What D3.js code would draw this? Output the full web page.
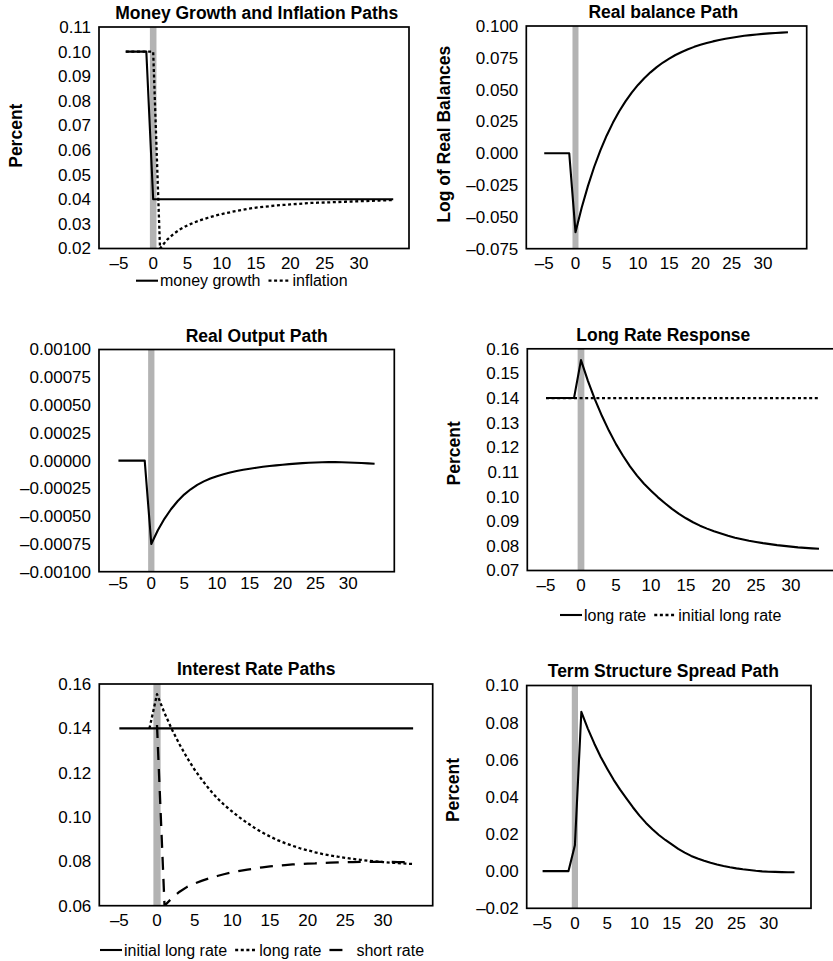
<!DOCTYPE html>
<html><head><meta charset="utf-8">
<script src="https://cdn.jsdelivr.net/npm/d3@7"></script>
<style>
body{margin:0;background:#fff}
svg{display:block}
text{font-family:"Liberation Sans",Arial,Helvetica,sans-serif;fill:#000}
</style></head><body>
<svg id="chart" width="833" height="961"></svg>
<script>
// ---------------- DATA ----------------
const periods = [-5,-4,-3,-2,-1,0,1,2,3,4,5,6,7,8,9,10,11,12,13,14,15,16,17,18,19,20,21,22,23,24,25,26,27,28,29,30,31,32,33,34];
const periodsMoney = [-4,-3,-2,-1,0,1,2,3,4,5,6,7,8,9,10,11,12,13,14,15,16,17,18,19,20,21,22,23,24,25,26,27,28,29,30,31,32,33,34,35];
const xTickValues = [-5,0,5,10,15,20,25,30];

const moneyGrowth = [0.10,0.10,0.10,0.10,0.04,0.04,0.04,0.04,0.04,0.04,0.04,0.04,0.04,0.04,0.04,0.04,0.04,0.04,0.04,0.04,0.04,0.04,0.04,0.04,0.04,0.04,0.04,0.04,0.04,0.04,0.04,0.04,0.04,0.04,0.04,0.04,0.04,0.04,0.04,0.04];
const inflation = [0.10,0.10,0.10,0.10,0.10,0.0200,0.0235,0.0260,0.0279,0.0294,0.0306,0.0316,0.0325,0.0333,0.0340,0.0346,0.0352,0.0357,0.0362,0.0366,0.0369,0.0372,0.0375,0.0377,0.0379,0.0381,0.0383,0.0385,0.0386,0.0387,0.0388,0.0389,0.0390,0.0391,0.0392,0.0393,0.0394,0.0395,0.0396,0.0397];

const realBalance = [0,0,0,0,0,-0.062,-0.0426,-0.0256,-0.0106,0.0025,0.0140,0.0241,0.0330,0.0408,0.0477,0.0537,0.0590,0.0636,0.0677,0.0713,0.0744,0.0772,0.0796,0.0817,0.0836,0.0852,0.0866,0.0879,0.0890,0.0900,0.0908,0.0916,0.0923,0.0928,0.0933,0.0938,0.0942,0.0945,0.0948,0.0951];

const realOutput = [0,0,0,0,0,-0.00075,-0.000627,-0.000524,-0.000438,-0.000366,-0.000306,-0.000258,-0.000219,-0.000187,-0.000161,-0.000140,-0.000122,-0.000107,-0.000094,-0.000083,-0.000073,-0.000064,-0.000056,-0.000049,-0.000043,-0.000037,-0.000032,-0.000027,-0.000023,-0.000020,-0.000017,-0.000015,-0.000014,-0.000014,-0.000015,-0.000017,-0.000019,-0.000022,-0.000025,-0.000029];

const longRate = [0.14,0.14,0.14,0.14,0.14,0.1554,0.1469,0.1394,0.1327,0.1267,0.1213,0.1166,0.1123,0.1085,0.1052,0.1024,0.0997,0.0973,0.0950,0.0930,0.0912,0.0896,0.0882,0.0870,0.0859,0.0850,0.0841,0.0833,0.0827,0.0821,0.0816,0.0811,0.0807,0.0803,0.0800,0.0797,0.0794,0.0792,0.0790,0.0788];
const initialLongRate = [0.14,0.14,0.14,0.14,0.14,0.14,0.14,0.14,0.14,0.14,0.14,0.14,0.14,0.14,0.14,0.14,0.14,0.14,0.14,0.14,0.14,0.14,0.14,0.14,0.14,0.14,0.14,0.14,0.14,0.14,0.14,0.14,0.14,0.14,0.14,0.14,0.14,0.14,0.14,0.14];
const shortRate = [0.14,0.14,0.14,0.14,0.14,0.1415,0.0600,0.0635,0.0663,0.0685,0.0700,0.0713,0.0724,0.0734,0.0743,0.0751,0.0757,0.0763,0.0768,0.0773,0.0777,0.0780,0.0783,0.0786,0.0788,0.0790,0.0791,0.0793,0.0794,0.0795,0.0796,0.0797,0.0798,0.0798,0.0798,0.0798,0.0798,0.0797,0.0797,0.0796];
const spread = [0,0,0,0,0,0.0139,0.0858,0.0768,0.0688,0.0615,0.0552,0.0492,0.0439,0.0391,0.0343,0.0299,0.0260,0.0226,0.0195,0.0168,0.0144,0.0120,0.0100,0.0082,0.0068,0.0056,0.0045,0.0036,0.0028,0.0021,0.0015,0.0010,0.0006,0.0002,-0.0001,-0.0003,-0.0004,-0.0005,-0.0006,-0.0006];

const yTicksInflation = [0.02,0.03,0.04,0.05,0.06,0.07,0.08,0.09,0.10,0.11];
const yTicksBalance = [-0.075,-0.05,-0.025,0,0.025,0.05,0.075,0.1];
const yTicksOutput = [-0.001,-0.00075,-0.0005,-0.00025,0,0.00025,0.0005,0.00075,0.001];
const yTicksLong = [0.07,0.08,0.09,0.10,0.11,0.12,0.13,0.14,0.15,0.16];
const yTicksRates = [0.06,0.08,0.10,0.12,0.14,0.16];
const yTicksSpread = [-0.02,0,0.02,0.04,0.06,0.08,0.10];

// ---------------- STYLES ----------------
const STY = {
  solid:  {w:2.1, dash:null},
  dotted: {w:2.3, dash:"3,2.6"},
  dashed: {w:2.3, dash:"13,9"}
};

const panels = [
  {id:"p1", box:{l:99,t:27,r:409,b:248.5}, xd:[-7.9,37.3], yd:[0.02,0.11], yt:yTicksInflation, yf:".2f",
   title:"Money Growth and Inflation Paths", tx:256.7, ty:18.5, yl:"Percent", ylx:21.5, yly:135.7, xlb:269.4,
   series:[{px:periodsMoney,v:inflation,s:"dotted"},{px:periodsMoney,v:moneyGrowth,s:"solid"}],
   legend:{x:136, y:280.7, items:[{s:"solid",t:"money growth"},{s:"dotted",t:"inflation"}]}},
  {id:"p2", box:{l:526.3,t:26,r:806.7,b:248.7}, xd:[-7.87,37.0], yd:[-0.075,0.1], yt:yTicksBalance, yf:".3f",
   title:"Real balance Path", tx:663.3, ty:18.3, yl:"Log of Real Balances", ylx:450, yly:134.2, xlb:269.4,
   series:[{px:periods,v:realBalance,s:"solid"}]},
  {id:"p3", box:{l:99,t:349.5,r:394.3,b:571.7}, xd:[-7.96,37.0], yd:[-0.001,0.001], yt:yTicksOutput, yf:".5f",
   title:"Real Output Path", tx:256.7, ty:341.7, yl:null, xlb:589.4,
   series:[{px:periods,v:realOutput,s:"solid"}]},
  {id:"p4", box:{l:527.3,t:348.8,r:840,b:570.5}, xd:[-7.67,37.0], yd:[0.07,0.16], yt:yTicksLong, yf:".2f",
   title:"Long Rate Response", tx:663.3, ty:341, yl:"Percent", ylx:459.5, yly:453.3, xlb:591,
   series:[{px:periods,v:initialLongRate,s:"dotted"},{px:periods,v:longRate,s:"solid"}],
   legend:{x:560, y:615, items:[{s:"solid",t:"long rate"},{s:"dotted",t:"initial long rate"}]}},
  {id:"p5", box:{l:99.3,t:684,r:432.7,b:905.7}, xd:[-7.66,36.6], yd:[0.06,0.16], yt:yTicksRates, yf:".2f",
   title:"Interest Rate Paths", tx:256.2, ty:675, yl:null, xlb:926,
   series:[{px:periods,v:initialLongRate,s:"solid"},{px:periods,v:longRate,s:"dotted",from:-1},{px:periods,v:shortRate,s:"dashed",from:0}],
   legend:{x:100, y:950, items:[{s:"solid",t:"initial long rate"},{s:"dotted",t:"long rate"},{s:"dashed",t:"short rate",gap:5}]}},
  {id:"p6", box:{l:526.7,t:685.5,r:811,b:908.3}, xd:[-7.46,36.55], yd:[-0.02,0.10], yt:yTicksSpread, yf:".2f",
   title:"Term Structure Spread Path", tx:663.3, ty:677.3, yl:"Percent", ylx:458.5, yly:790, xlb:929.3,
   series:[{px:periods,v:spread,s:"solid"}]}
];

// ---------------- DRAW ----------------
const svg = d3.select("#chart");
svg.append("rect").attr("width",833).attr("height",961).attr("fill","#fff");
const defs = svg.append("defs");
const fixMinus = s => s.replace(/[-\u2212]/g, "\u2013");

panels.forEach(p => {
  const g = svg.append("g").attr("id", p.id);
  const x = d3.scaleLinear().domain(p.xd).range([p.box.l, p.box.r]);
  const y = d3.scaleLinear().domain(p.yd).range([p.box.b, p.box.t]);

  defs.append("clipPath").attr("id","clip-"+p.id)
    .append("rect").attr("x",p.box.l).attr("y",p.box.t)
    .attr("width",p.box.r-p.box.l).attr("height",p.box.b-p.box.t);

  // shaded band at period 0
  g.append("rect")
    .attr("x", x(-0.48)).attr("width", x(0.48)-x(-0.48))
    .attr("y", p.box.t).attr("height", p.box.b-p.box.t)
    .attr("fill", "#b3b3b3");

  const plot = g.append("g").attr("clip-path","url(#clip-"+p.id+")");
  p.series.forEach(sr => {
    const pts = sr.v.map((v,i)=>({t:sr.px[i], v:v})).filter(d => sr.from===undefined || d.t >= sr.from);
    const line = d3.line().x(d=>x(d.t)).y(d=>y(d.v));
    const st = STY[sr.s];
    plot.append("path").datum(pts).attr("d", line)
      .attr("fill","none").attr("stroke","#000")
      .attr("stroke-width", st.w)
      .attr("stroke-linejoin","round")
      .attr("stroke-dasharray", st.dash);
  });

  // frame
  g.append("rect").attr("x",p.box.l).attr("y",p.box.t)
    .attr("width",p.box.r-p.box.l).attr("height",p.box.b-p.box.t)
    .attr("fill","none").attr("stroke","#000").attr("stroke-width",1.7);

  // y axis
  const ya = g.append("g").attr("transform","translate("+p.box.l+",0)")
    .call(d3.axisLeft(y).tickValues(p.yt).tickSize(0).tickPadding(8)
      .tickFormat(v => fixMinus(d3.format(p.yf)(v))));
  ya.select(".domain").remove();
  ya.selectAll("text").attr("font-size",17).attr("font-family",null).attr("fill","#000");
  ya.attr("font-family",null).attr("font-size",null);

  // x axis labels
  const xa = g.append("g");
  xa.selectAll("text").data(xTickValues).join("text")
    .attr("x", d => x(d)).attr("y", p.xlb)
    .attr("text-anchor","middle").attr("font-size",17)
    .text(d => fixMinus(String(d)));

  // title
  g.append("text").attr("x",p.tx).attr("y",p.ty).attr("text-anchor","middle")
    .attr("font-size",17.5).attr("font-weight","bold").text(p.title);

  if (p.yl) {
    g.append("text").attr("transform","translate("+p.ylx+","+p.yly+") rotate(-90)")
      .attr("text-anchor","middle").attr("font-size",17.5).attr("font-weight","bold").text(p.yl);
  }

  if (p.legend) {
    const lg = g.append("g");
    let cx = p.legend.x;
    const ly = p.legend.y;
    p.legend.items.forEach((it,k) => {
      const st = STY[it.s];
      const len = 22;
      lg.append("line").attr("x1",cx).attr("x2",cx+len).attr("y1",ly).attr("y2",ly)
        .attr("stroke","#000").attr("stroke-width",st.w)
        .attr("stroke-dasharray", st.dash);
      cx += len + (it.gap !== undefined ? it.gap : 2);
      const tx = lg.append("text").attr("x",cx).attr("y",ly+5.5).attr("font-size",16).text(it.t);
      cx += tx.node().getComputedTextLength() + 8;
    });
  }
});
</script>
</body></html>
